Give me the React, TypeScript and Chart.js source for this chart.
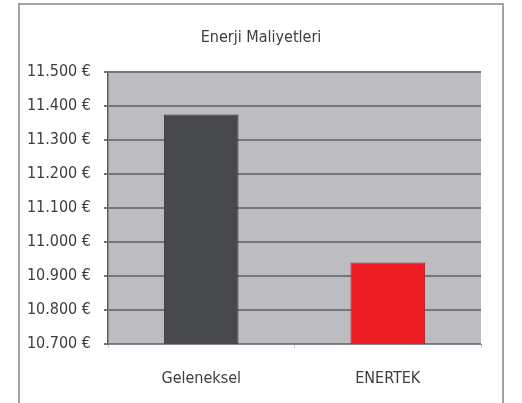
import React, { useEffect, useRef } from "react";
import { Chart, registerables } from "chart.js";

Chart.register(...registerables);

const categories = ["Geleneksel", "ENERTEK"];
const costs = [11375, 10940];
const barColors = ["#48494d", "#ee1c25"];
const barBorders = ["#3c3d40", "#b3262b"];
const yMin = 10700;
const yMax = 11500;
const yStep = 100;
const titleText = "Enerji Maliyetleri";

const FONT = "'DejaVu Sans Condensed', 'Liberation Sans', sans-serif";
const TEXT = "#3d3d3d";

const fmt = (v: number) =>
  Math.round(v).toString().replace(/\B(?=(\d{3})+(?!\d))/g, ".") + " €";

const plotBg = {
  id: "plotBg",
  beforeDraw(chart: any) {
    const { ctx, chartArea } = chart;
    if (!chartArea) return;
    ctx.save();
    ctx.fillStyle = "#bdbcc1";
    ctx.fillRect(chartArea.left, chartArea.top, chartArea.right - chartArea.left, chartArea.bottom - chartArea.top);
    ctx.restore();
  },
};

const frameTitle = {
  id: "frameTitle",
  afterDraw(chart: any) {
    const { ctx } = chart;
    ctx.save();
    ctx.fillStyle = TEXT;
    ctx.font = `16px ${FONT}`;
    ctx.textAlign = "center";
    ctx.textBaseline = "middle";
    ctx.fillText(titleText, 261, 38);
    ctx.restore();
  },
};

export default function App() {
  const ref = useRef<HTMLCanvasElement>(null);
  useEffect(() => {
    if (!ref.current) return;
    const chart = new Chart(ref.current, {
      type: "bar",
      data: {
        labels: categories,
        datasets: [
          {
            data: costs,
            backgroundColor: barColors,
            borderColor: barBorders,
            borderWidth: 1,
            categoryPercentage: 0.8,
            barPercentage: 0.5,
          },
        ],
      },
      options: {
        animation: false,
        responsive: false,
        maintainAspectRatio: false,
        layout: { padding: { left: 0, right: 41, top: 72, bottom: 0 } },
        plugins: {
          legend: { display: false },
          tooltip: { enabled: false },
          title: { display: false },
        },
        scales: {
          x: {
            grid: { drawOnChartArea: false, drawTicks: true, tickLength: 4, color: "#c8c8c8" },
            border: { color: "#8a878b", width: 1 },
            ticks: { color: TEXT, font: { family: FONT, size: 16 }, padding: 21 },
            afterFit: (s: any) => {
              s.height = 59;
            },
          },
          y: {
            min: yMin,
            max: yMax,
            grid: { color: "#77737a", lineWidth: 2, tickLength: 4, drawTicks: true },
            border: { color: "#5f5c60", width: 1.5 },
            ticks: {
              stepSize: yStep,
              color: TEXT,
              font: { family: FONT, size: 16 },
              padding: 13,
              callback: (v: any) => fmt(Number(v)),
            },
            afterFit: (s: any) => {
              s.width = 108;
            },
          },
        },
      },
      plugins: [plotBg, frameTitle],
    });
    return () => chart.destroy();
  }, []);
  return (
    <div style={{ position: "fixed", left: 0, top: 0, width: 522, height: 403, background: "#fff", overflow: "hidden" }}>
      <div
        style={{
          position: "absolute",
          left: 18,
          top: 3,
          width: 486,
          height: 420,
          borderLeft: "2px solid #a3a3a3",
          borderTop: "2px solid #a3a3a3",
          borderRight: "2px solid #a3a3a3",
          boxSizing: "border-box",
        }}
      />
      <canvas ref={ref} width={522} height={403} style={{ position: "absolute", left: 0, top: 0 }} />
    </div>
  );
}
